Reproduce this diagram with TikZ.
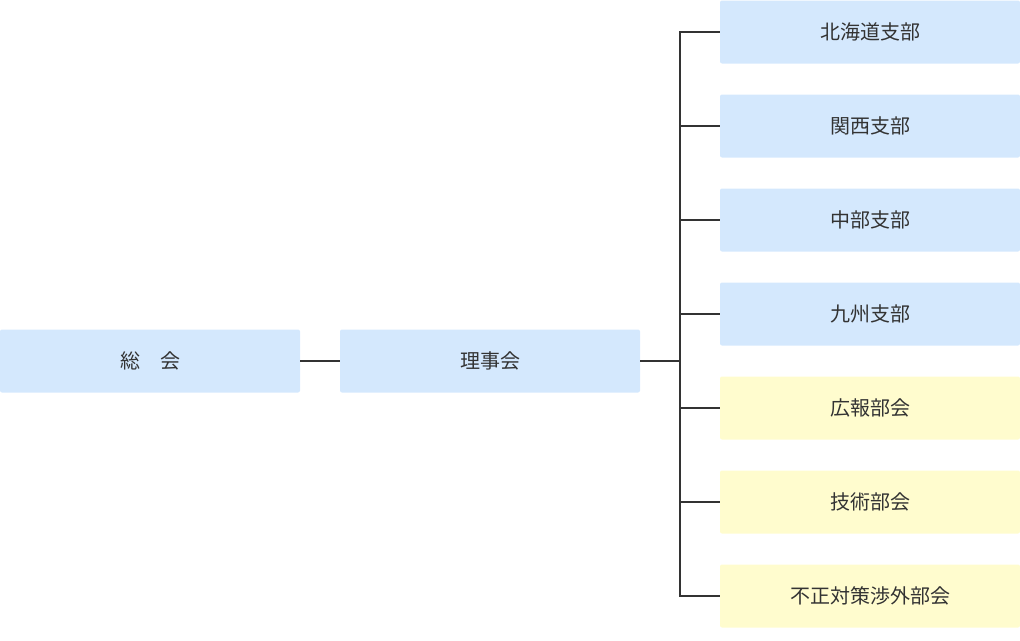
\documentclass[tikz,border=0pt]{standalone}
\usepackage{fontspec}
\newfontfamily\cjk{Noto Sans CJK JP}
\definecolor{boxblue}{HTML}{D4E8FD}
\definecolor{boxyellow}{HTML}{FFFCCE}
\definecolor{textgray}{HTML}{333333}
\definecolor{linegray}{HTML}{333333}
\begin{document}
\begin{tikzpicture}[x=1pt,y=-1pt]
	\tikzstyle{unit}=[rectangle,rounded corners=2pt,minimum width=300pt,minimum height=63pt,inner sep=0pt,text=textgray,font=\cjk\fontsize{20}{24}\selectfont]
	\tikzstyle{branch}=[unit,fill=boxblue]
	\tikzstyle{section}=[unit,fill=boxyellow]
	\tikzstyle{edge}=[draw=linegray,line width=1.2pt]
	\useasboundingbox (0,0) rectangle (1020,640);
	\node [branch] (sokai) at (150,361) {総　会};
	\node [branch] (rijikai) at (490,361) {理事会};
	\node [branch] (hokkaido) at (870,32) {北海道支部};
	\node [branch] (kansai) at (870,126) {関西支部};
	\node [branch] (chubu) at (870,220) {中部支部};
	\node [branch] (kyushu) at (870,314) {九州支部};
	\node [section] (koho) at (870,408) {広報部会};
	\node [section] (gijutsu) at (870,502) {技術部会};
	\node [section] (fusei) at (870,596) {不正対策渉外部会};
	\coordinate (trunk) at (680,361);
	\path[edge] (sokai) -- (rijikai);
	\path[edge] (rijikai) -- (trunk);
	\foreach \n in {hokkaido,kansai,chubu,kyushu,koho,gijutsu,fusei}
		\path[edge] (\n.west) -- (\n.west -| trunk) -- (trunk);
\end{tikzpicture}
\end{document}
